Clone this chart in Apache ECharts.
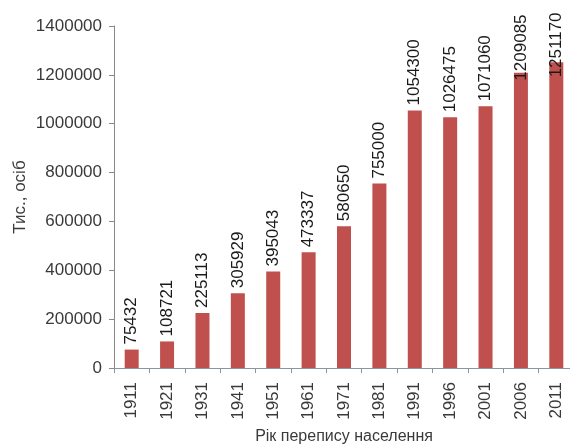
<!DOCTYPE html>
<html>
<head>
<meta charset="utf-8">
<script src="https://cdn.jsdelivr.net/npm/echarts@6/dist/echarts.min.js"></script>
<style>
html,body{margin:0;padding:0;background:#fff;}
#c{width:570px;height:448px;}
</style>
</head>
<body>
<div id="c"></div>
<script>
const years = ['1911','1921','1931','1941','1951','1961','1971','1981','1991','1996','2001','2006','2011'];
const population = [75432,108721,225113,305929,395043,473337,580650,755000,1054300,1026475,1071060,1209085,1251170];
const yAxisName = 'Тис., осіб';
const xAxisName = 'Рік перепису населення';

const chart = echarts.init(document.getElementById('c'));
const font = 'Liberation Sans, Arial, sans-serif';
// labels near the top edge are pushed down into the bar (as in the reference)
const labelDistance = { 11: -8, 12: -15 };
const data = population.map((v, i) => {
  const item = { value: v };
  if (labelDistance[i] !== undefined) item.label = { distance: labelDistance[i] };
  return item;
});
chart.setOption({
  animation: false,
  grid: { left: 114, top: 26, bottom: 80, width: 460, outerBoundsMode: 'none', containLabel: false },
  xAxis: {
    type: 'category',
    data: years,
    name: xAxisName,
    nameLocation: 'middle',
    nameGap: 61,
    nameTextStyle: { fontFamily: font, fontSize: 16, color: '#3a3a3a' },
    axisLine: { lineStyle: { color: '#8a96a6', width: 1 } },
    axisTick: { show: true, length: 5, lineStyle: { color: '#8a96a6' } },
    axisLabel: { rotate: 90, fontFamily: font, fontSize: 17, color: '#3a3a3a', margin: 14 }
  },
  yAxis: {
    type: 'value',
    min: 0,
    max: 1400000,
    interval: 200000,
    name: yAxisName,
    nameLocation: 'middle',
    nameGap: 85,
    nameMoveOverlap: false,
    nameRotate: 90,
    nameTextStyle: { fontFamily: font, fontSize: 17, color: '#3a3a3a' },
    splitLine: { show: false },
    axisLine: { show: true, lineStyle: { color: '#888', width: 1 } },
    axisTick: { show: true, length: 5, lineStyle: { color: '#888' } },
    axisLabel: { fontFamily: font, fontSize: 17, color: '#3a3a3a', margin: 12, formatter: v => String(v) }
  },
  series: [{
    type: 'bar',
    data: data,
    barWidth: 14,
    itemStyle: { color: '#c0504d' },
    label: {
      show: true,
      position: 'top',
      rotate: 90,
      align: 'left',
      verticalAlign: 'middle',
      distance: 5,
      fontFamily: font,
      fontSize: 17,
      color: '#1a1a1a'
    }
  }]
});
</script>
</body>
</html>
